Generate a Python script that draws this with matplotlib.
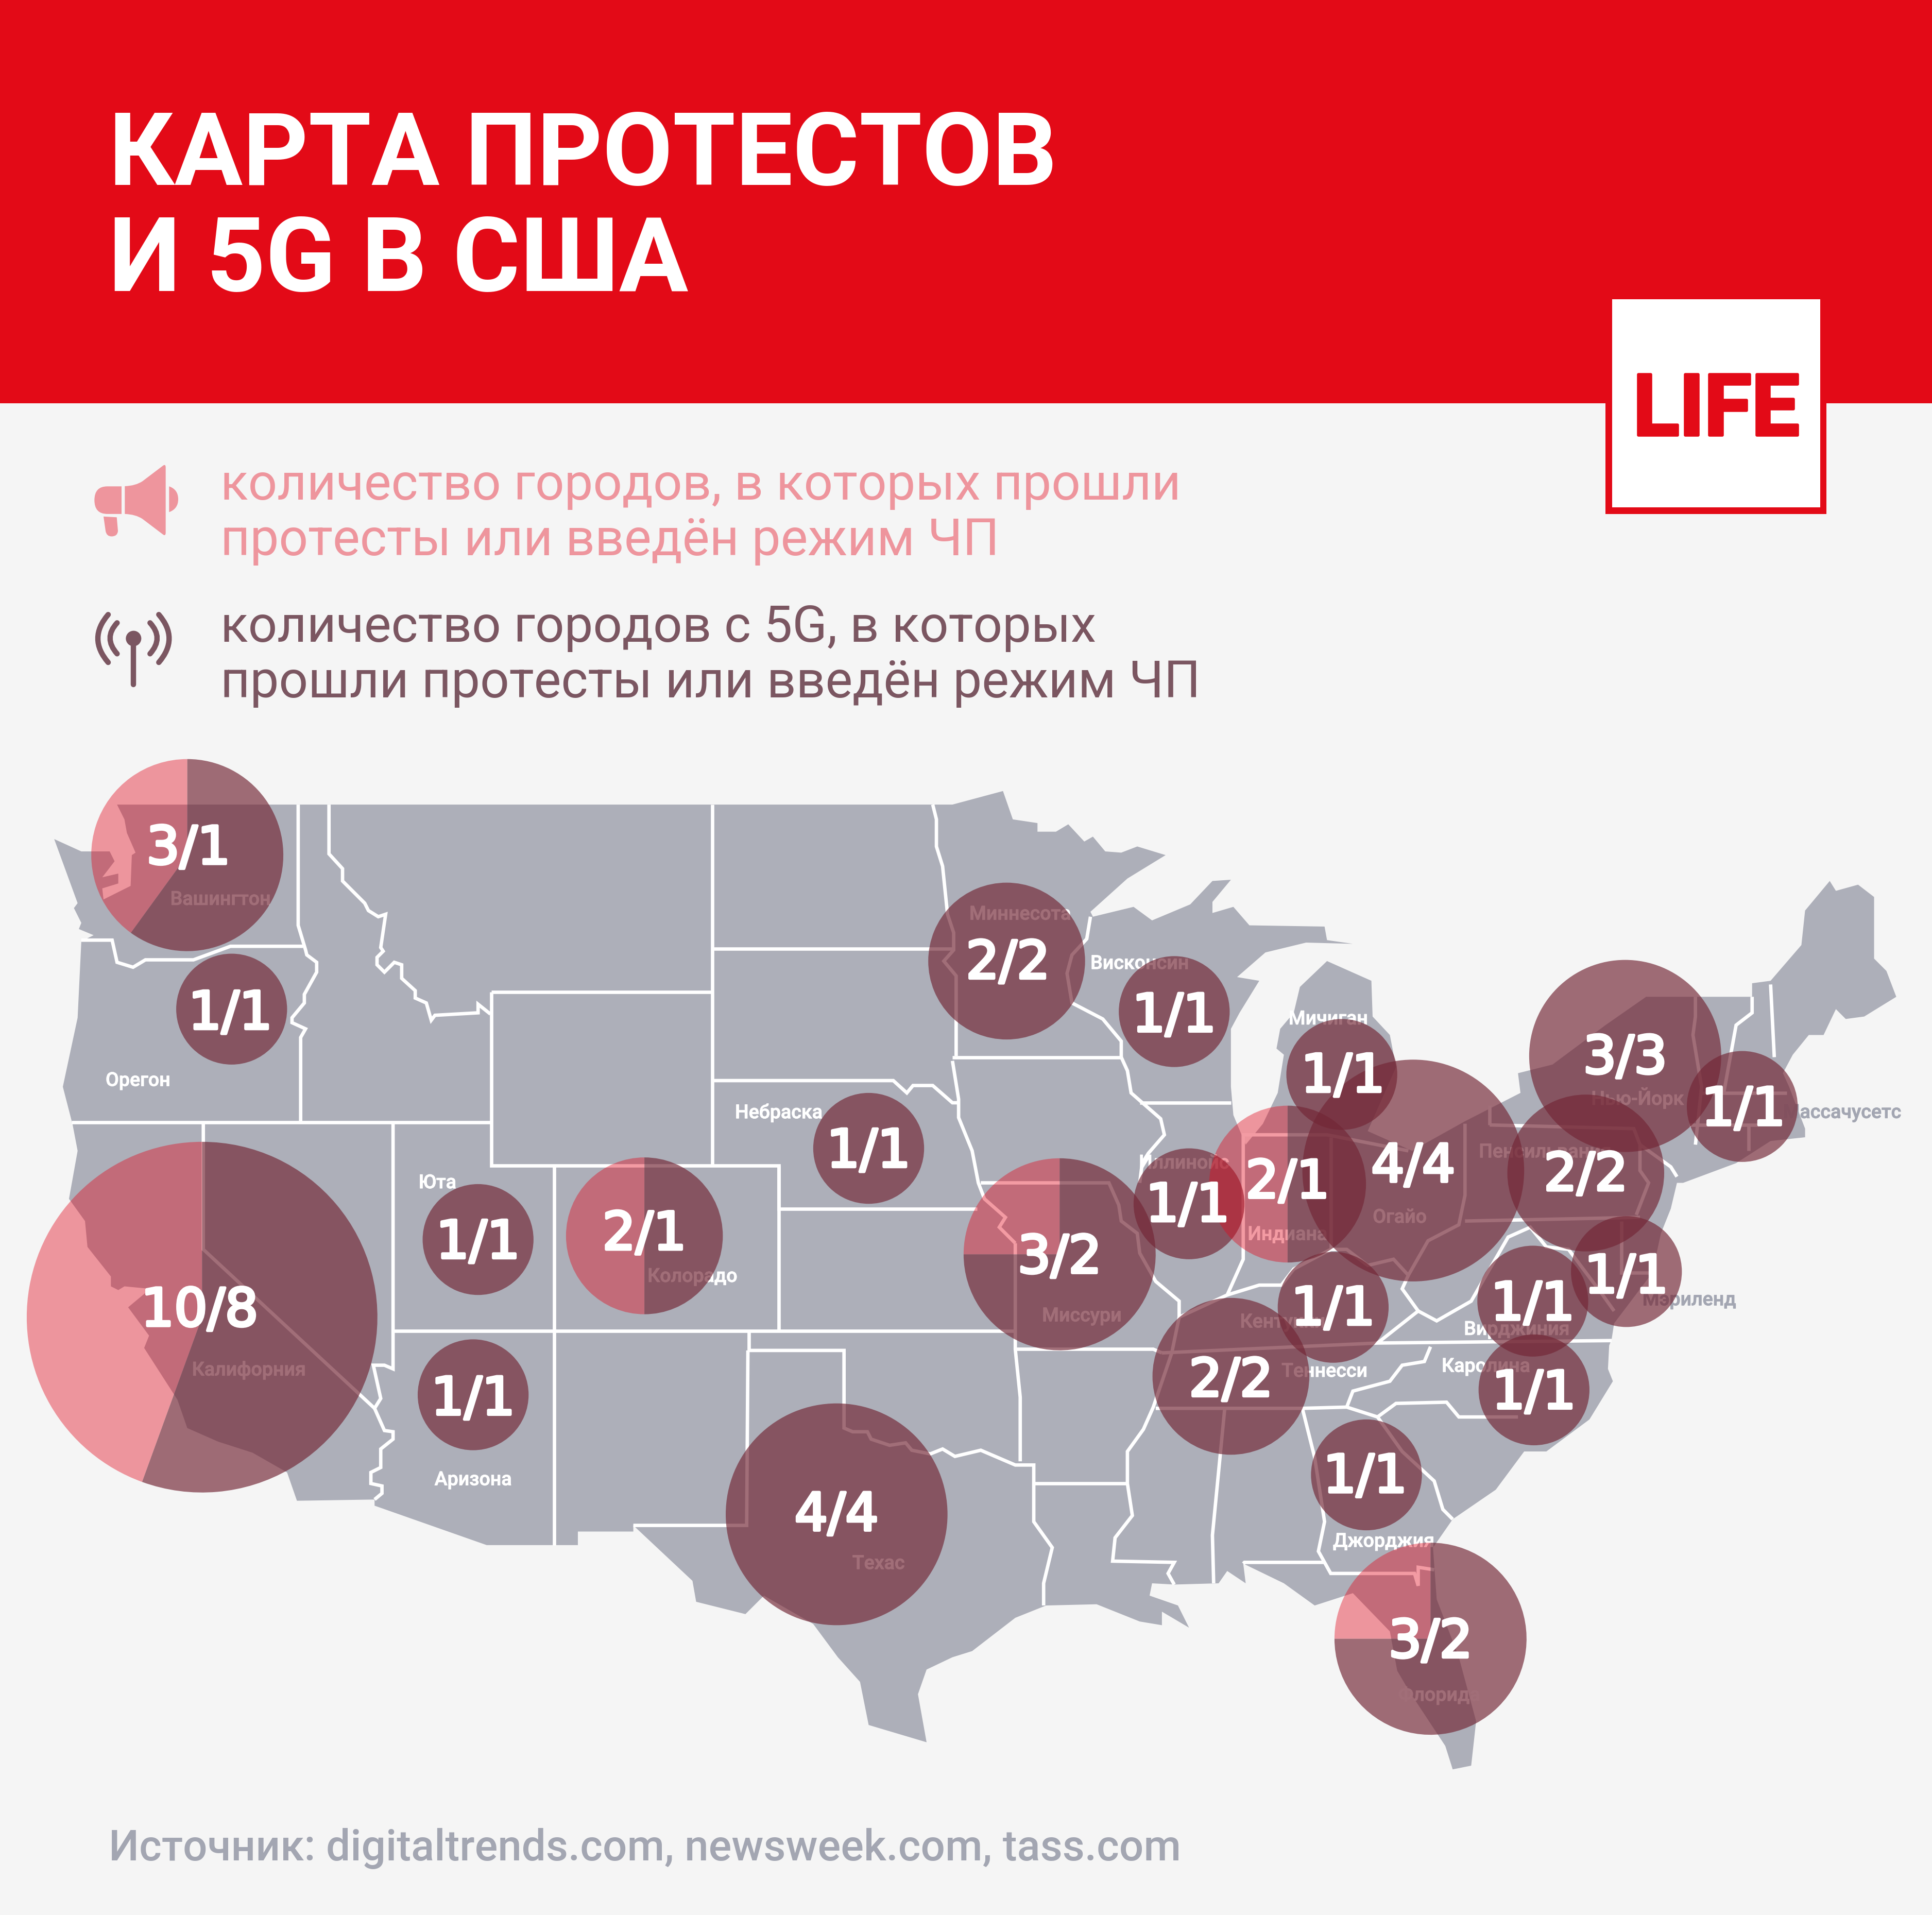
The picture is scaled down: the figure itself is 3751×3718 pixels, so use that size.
import numpy as np
import matplotlib
matplotlib.use('Agg')
import matplotlib.pyplot as plt
import matplotlib.patheffects as pe
from matplotlib.patches import Polygon, Rectangle, Wedge, Circle, PathPatch
from matplotlib.path import Path

# Everything is placed in the 1568 wide picture space
W = 1568.0
SCALE = 3751.0 / W
H = 3718.0 / SCALE

BG = '#f5f5f5'
RED = '#e30a17'
LAND = '#adafb9'
PINK_TXT = '#ee959d'
DARK_TXT = '#7b5661'
GREY_TXT = '#a3a6b2'

# Bubbles: state, protest cities, 5G cities, dark sweep
STATES = ['Вашингтон', 'Орегон', 'Калифорния', 'Юта', 'Аризона', 'Колорадо', 'Небраска',
          'Техас', 'Миннесота', 'Миссури', 'Висконсин', 'Иллинойс', 'Индиана', 'Мичиган',
          'Огайо', 'Нью-Йорк', 'Пенсильвания', 'Массачусетс', 'Мэриленд', 'Вирджиния',
          'Каролина', 'Кентукки', 'Теннесси', 'Джорджия', 'Флорида']
PROTEST = [3, 1, 10, 1, 1, 2, 1, 4, 2, 3, 1, 1, 2, 1, 4, 3, 2, 1, 1, 1, 1, 1, 2, 1, 3]
FIVE_G = [1, 1, 8, 1, 1, 1, 1, 4, 2, 2, 1, 1, 1, 1, 4, 3, 2, 1, 1, 1, 1, 1, 2, 1, 2]
SWEEP = [216, 360, 200, 360, 360, 180, 360, 360, 360, 270, 360, 360, 180, 360,
         360, 360, 360, 360, 360, 360, 360, 360, 360, 360, 270]
BUB_X = [152, 188, 164, 388, 384, 523, 705, 679, 817, 860, 953, 965, 1045, 1089,
         1147, 1319, 1287, 1414, 1320, 1244, 1245, 1082, 999, 1109, 1161]
BUB_Y = [694, 819, 1069, 1006, 1132, 1003, 932, 1229, 780, 1018, 821, 977, 961, 872,
         950, 857, 952, 898, 1032, 1056, 1128, 1061, 1117, 1197, 1330]
NUM_X = [153, 187, 162, 388, 384, 523, 705, 679, 818, 860, 953, 964, 1045, 1090,
         1147, 1319, 1287, 1415, 1320, 1244, 1245, 1082, 999, 1108, 1161]
NUM_Y = [687, 821, 1062, 1007, 1134, 1000, 933, 1228, 780, 1019, 823, 977, 958, 872,
         945, 857, 952, 899, 1035, 1057, 1129, 1061, 1119, 1197, 1331]
LABEL_X = [179, 112, 202, 355, 384, 562, 632, 713, 828, 878, 925, 961, 1045, 1078,
           1136, 1329, 1254, 1495, 1371, 1231, 1206, 1041, 1075, 1123, 1168]
LABEL_Y = [730, 877, 1112, 960, 1201, 1036, 903, 1269, 742, 1068, 782, 944, 1002, 827,
           988, 891, 935, 903, 1055, 1079, 1109, 1073, 1113, 1251, 1376]
GREY_LABELS = ['Массачусетс', 'Мэриленд']

# Country outline
LAND_OUTLINE = [(44,681),(66,691),(89,691),(93,699),(83,712),(96,709),(96,717),(83,721),(84,730),
    (106,719),(107,694),(110,692),(103,676),(101,665),(95,653),(773,653),(814,642),(822,665),
    (842,668),(842,675),(857,675),(867,669),(880,683),(887,679),(897,691),(910,692),(923,687),
    (946,694),(915,713),(885,740),(887,744),(920,736),(935,747),(966,734),(984,715),(999,714),
    (984,732),(984,741),(1001,736),(1014,751),(1075,752),(1077,763),(1098,766),(1060,765),
    (1027,773),(1004,793),(1022,796),(1006,822),(999,835),(999,882),(1001,905),(1011,929),
    (1025,912),(1037,887),(1042,856),(1036,851),(1039,835),(1050,822),(1055,801),(1077,780),
    (1113,796),(1114,825),(1128,840),(1133,866),(1110,918),(1146,934),(1189,910),(1234,887),
    (1232,871),(1260,864),(1303,832),(1336,809),(1422,809),(1422,798),(1437,796),(1462,767),
    (1465,739),(1485,715),(1490,723),(1508,718),(1521,728),(1521,778),(1531,788),(1539,809),
    (1513,825),(1498,827),(1490,819),(1480,840),(1468,840),(1455,856),(1447,871),(1452,882),
    (1465,916),(1465,923),(1437,926),(1409,944),(1366,960),(1361,960),(1356,981),(1348,1001),
    (1341,1033),(1310,1074),(1308,1087),(1306,1092),(1305,1111),(1309,1121),(1290,1152),
    (1255,1178),(1237,1178),(1214,1209),(1179,1233),(1163,1256),(1166,1298),(1184,1345),
    (1198,1397),(1194,1433),(1179,1436),(1173,1417),(1144,1373),(1134,1356),(1128,1324),
    (1098,1293),(1067,1303),(1042,1285),(1009,1269),(1011,1285),(996,1275),(989,1285),
    (953,1286),(935,1285),(933,1295),(956,1303),(965,1321),(943,1308),(943,1319),(925,1316),
    (890,1302),(849,1303),(824,1313),(789,1340),(773,1345),(752,1355),(745,1375),(752,1414),
    (705,1400),(698,1365),(680,1345),(660,1318),(620,1295),(605,1310),(565,1300),(562,1283),
    (514,1238),(514,1243),(469,1243),(469,1254),(395,1254),(304,1222),(304,1217),(241,1218),
    (233,1195),(205,1179),(177,1170),(152,1159),(144,1136),(117,1094),(121,1084),(104,1061),
    (122,1046),(101,1044),(96,1047),(90,1044),(90,1036),(71,1012),(69,991),(56,973),(63,934),
    (59,913),(51,882),(63,826),(66,764),(76,759),(64,754),(66,749),(60,737),(63,733)]

# State borders, one list per white line
BORDERS = [
    [(66,763),(91,763),(95,781),(108,785),(118,779),(157,779),(187,768),(246,768)],
    [(242,653),(242,751),(248,771),(249,775),(257,781),(257,789),(247,807),(247,814),(237,826),
     (237,830),(248,835),(244,842),(244,911)],
    [(267,653),(267,693),(278,705),(278,715),(296,733),(299,739),(307,744),(313,742),(309,769),
     (311,772),(306,777),(306,783),(312,789),(320,781),(326,783),(326,794),(337,804),(337,810),
     (346,814),(350,828),(353,824),(388,822),(388,815),(398,823)],
    [(399,805),(578,805)],
    [(399,805),(399,946),(632,946),(632,981),(793,981)],
    [(578,653),(578,946)],
    [(579,770),(773,770)],
    [(579,877),(725,877),(736,887),(741,881),(757,881),(773,895),(778,895)],
    [(450,946),(450,1254)],
    [(632,946),(632,1080)],
    [(319,1080),(824,1080)],
    [(319,912),(319,1111),(312,1108),(303,1108),(309,1135),(304,1143),(312,1161),(319,1162),
     (319,1168),(309,1176),(309,1191),(301,1195),(301,1204),(310,1206),(310,1212),(304,1217)],
    [(58,911),(398,911)],
    [(165,912),(165,1014),(304,1143)],
    [(608,1081),(608,1096),(685,1096),(685,1159),(692,1162),(704,1162),(707,1168),(722,1173),
     (735,1171),(740,1177),(755,1180),(765,1176),(775,1182),(796,1177),(824,1189),(839,1189),
     (839,1235),(854,1256),(847,1285),(847,1303)],
    [(607,1096),(606,1238),(514,1238)],
    [(824,1009),(824,1095),(828,1134),(828,1186)],
    [(773,858),(910,858)],
    [(757,653),(760,665),(760,687),(765,703),(769,742),(774,757),(774,771),(766,780),(776,792),(776,857)],
    [(910,858),(910,845),(895,827),(870,814),(866,790),(870,775),(882,762),(885,744)],
    [(925,895),(999,895)],
    [(910,858),(915,869),(918,887),(942,908),(945,921),(932,936),(927,944),(925,960)],
    [(773,861),(778,892),(778,907),(789,934),(794,960),(799,973),(816,988),(811,996),(824,1009)],
    [(796,960),(900,960),(908,978),(910,991),(923,1001),(925,1017),(938,1040),(957,1056),(957,1069),
     (951,1098),(936,1142),(928,1160),(915,1178),(915,1204),(919,1230),(905,1248),(903,1267),
     (953,1268),(948,1277),(953,1286)],
    [(824,1095),(936,1095),(943,1098)],
    [(839,1204),(915,1204)],
    [(938,1143),(1057,1143),(1093,1142),(1118,1150)],
    [(943,1098),(1118,1090),(1308,1088)],
    [(1161,1093),(1156,1105),(1138,1108),(1128,1121),(1098,1129),(1093,1142)],
    [(1118,1150),(1133,1139),(1174,1138),(1184,1150),(1232,1150)],
    [(1118,1150),(1138,1178),(1164,1202),(1171,1225),(1179,1233)],
    [(1057,1143),(1067,1183),(1075,1235),(1070,1259),(1080,1277),(1148,1277),(1151,1287),(1151,1272),(1164,1274)],
    [(994,1143),(984,1246),(985,1285)],
    [(1009,1269),(1010,1268),(1075,1268)],
    [(957,1069),(996,1051),(1009,1022),(1009,921),(1077,921),(1143,934)],
    [(1080,923),(1080,1014)],
    [(996,1051),(1022,1043),(1040,1043),(1050,1030),(1080,1014),(1093,1014),(1110,1027),(1131,1022),
     (1143,1035),(1159,1007),(1184,994),(1189,970),(1189,912)],
    [(1143,1035),(1138,1046),(1151,1064),(1118,1090)],
    [(1151,1064),(1166,1072),(1194,1056),(1224,1004),(1242,996),(1255,1012),(1273,1014),(1300,1050),(1310,1064)],
    [(1189,991),(1331,988)],
    [(1209,913),(1209,897)],
    [(1209,913),(1326,916),(1331,929),(1331,950),(1338,960),(1328,986)],
    [(1331,929),(1356,947),(1361,955)],
    [(1376,809),(1376,825),(1374,840),(1381,882),(1376,929)],
    [(1422,809),(1422,822),(1409,832),(1399,887)],
    [(1379,887),(1450,887)],
    [(1437,799),(1440,858)],
    [(1371,913),(1427,913)],
    [(1419,913),(1419,934)],
    [(1316,991),(1316,1033),(1341,1033)],
]

LW = 4.8
plt.rcParams['font.family'] = ['Roboto', 'DejaVu Sans']

fig = plt.figure(figsize=(37.51, 37.18), dpi=100, facecolor=BG)
ax = fig.add_axes([0, 0, 1, 1])
ax.set_xlim(0, W)
ax.set_ylim(H, 0)
ax.axis('off')


def logo_rect(x0, y0, x1, y1, color, z):
    ax.add_patch(Rectangle((x0 / SCALE, y0 / SCALE), (x1 - x0) / SCALE, (y1 - y0) / SCALE,
                           facecolor=color, edgecolor='none', zorder=z))


# Header and logo
logo_rect(0, 0, 3751, 783, RED, 1)
logo_rect(3117, 581, 3546, 998, RED, 2)
logo_rect(3130, 581, 3534, 985, 'white', 3)
logo = ax.text(3332 / SCALE, 845 / SCALE, 'LIFE', color=RED, fontsize=120, fontweight='bold',
               ha='center', va='baseline', zorder=4)
logo.set_path_effects([pe.withStroke(linewidth=4, foreground=RED)])

ax.text(88, 150, 'КАРТА ПРОТЕСТОВ', color='white', fontsize=142, fontweight='bold', va='baseline', zorder=4)
ax.text(88, 236, 'И 5G В США', color='white', fontsize=144, fontweight='bold', va='baseline', zorder=4)

# Legend text
ax.text(179, 405.5, 'количество городов, в которых прошли', color=PINK_TXT, fontsize=71.5, va='baseline')
ax.text(179, 450.5, 'протесты или введён режим ЧП', color=PINK_TXT, fontsize=71.7, va='baseline')
ax.text(179, 521, 'количество городов с 5G, в которых', color=DARK_TXT, fontsize=71.5, va='baseline')
ax.text(179, 566, 'прошли протесты или введён режим ЧП', color=DARK_TXT, fontsize=71.7, va='baseline')


def icon_pt(zx, zy):
    return ((100 + zx / 3.0) / SCALE, (820 + zy / 2.8) / SCALE)


def fill_icon(steps):
    verts, codes = [], []
    for code, pts in steps:
        for p in pts:
            verts.append(icon_pt(*p))
            codes.append(code)
    ax.add_patch(PathPatch(Path(verts, codes), facecolor=PINK_TXT, edgecolor='none'))


M, L, C = Path.MOVETO, Path.LINETO, Path.CURVE3
fill_icon([(M, [(408, 348)]), (L, [(325, 348)]), (C, [(250, 348), (250, 423)]),
           (C, [(250, 498), (325, 498)]), (L, [(408, 498)]), (L, [(408, 348)])])
fill_icon([(M, [(427, 347)]), (C, [(490, 345), (530, 320)]), (L, [(650, 235)]),
           (C, [(665, 225), (665, 245)]), (L, [(665, 600)]), (C, [(665, 620), (650, 610)]),
           (L, [(530, 525)]), (C, [(490, 500), (427, 498)]), (L, [(427, 347)])])
fill_icon([(M, [(685, 348)]), (C, [(738, 365), (738, 418)]), (C, [(738, 470), (685, 488)]), (L, [(685, 348)])])
fill_icon([(M, [(303, 512)]), (L, [(380, 516)]), (L, [(387, 590)]), (C, [(385, 620), (350, 620)]),
           (C, [(320, 620), (315, 590)]), (L, [(303, 512)])])

for p0, ctrl, p1 in [((330, 1045), (210, 1175), (330, 1305)), ((382, 1090), (300, 1172), (382, 1258)),
                     ((625, 1045), (745, 1175), (625, 1305)), ((574, 1090), (656, 1172), (574, 1258))]:
    ax.add_patch(PathPatch(Path([icon_pt(*p0), icon_pt(*ctrl), icon_pt(*p1)], [M, C, C]),
                           facecolor='none', edgecolor=DARK_TXT, lw=7.5, capstyle='round'))
ax.plot(*zip(icon_pt(478, 1190), icon_pt(478, 1425)), color=DARK_TXT, lw=7.5, solid_capstyle='round')
cx, cy = icon_pt(478, 1175)
ax.add_patch(Circle((cx, cy), 15.0 / SCALE, facecolor=DARK_TXT, edgecolor='none'))

# Map
ax.add_patch(Polygon(LAND_OUTLINE, closed=True, facecolor=LAND, edgecolor='none', zorder=5))
for line in BORDERS:
    xs, ys = zip(*line)
    ax.plot(xs, ys, color='white', lw=LW, solid_joinstyle='miter', solid_capstyle='butt', zorder=6)

for name, x, y in zip(STATES, LABEL_X, LABEL_Y):
    col = GREY_TXT if name in GREY_LABELS else 'white'
    t = ax.text(x, y, name, color=col, fontsize=27, fontweight='medium', ha='center', va='center', zorder=7)
    t.set_path_effects([pe.withStroke(linewidth=0.7, foreground=col)])

# Bubble area follows the protest count
R_ONE = 45.0
for x, y, n, sweep in zip(BUB_X, BUB_Y, PROTEST, SWEEP):
    r = R_ONE * np.sqrt(n)
    # y axis is flipped, so angles run clockwise from +x; -90 is the top of the circle
    start = -90
    if sweep < 360:
        ax.add_patch(Wedge((x, y), r, start + sweep, start + 360, facecolor='#e30519', alpha=0.4,
                           edgecolor='none', zorder=8))
    ax.add_patch(Wedge((x, y), r, start, start + sweep, facecolor='#732736', alpha=0.67,
                       edgecolor='none', zorder=8))

for x, y, n, m in zip(NUM_X, NUM_Y, PROTEST, FIVE_G):
    t = ax.text(x, y + 14, f'{n}/{m}', color='white', fontsize=73, family='DejaVu Sans',
                ha='center', va='baseline', zorder=9)
    t.set_path_effects([pe.withStroke(linewidth=4, foreground='white')])

ax.text(88, 1510, 'Источник: digitaltrends.com, newsweek.com, tass.com', color=GREY_TXT,
        fontsize=60, fontweight='medium', va='baseline')

fig.savefig('out.png', dpi=100, facecolor=BG)
